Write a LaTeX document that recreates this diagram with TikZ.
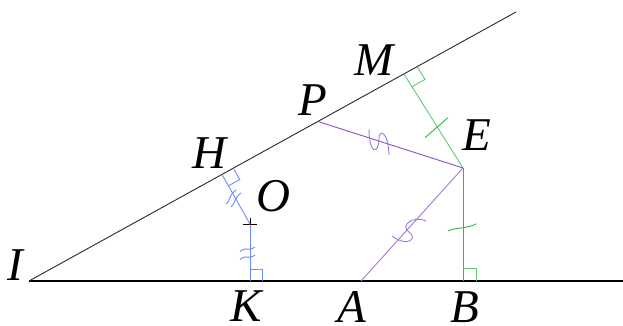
\documentclass[tikz,border=0pt]{standalone}
\usepackage{fontspec}
\setmainfont{Liberation Serif}
\usetikzlibrary{calc}
\definecolor{gline}{RGB}{40,40,40}
\definecolor{glight}{RGB}{100,200,120}
\definecolor{gdark}{RGB}{50,180,70}
\definecolor{pdark}{RGB}{135,80,195}
\definecolor{plight}{RGB}{165,120,215}
\definecolor{bl}{RGB}{105,140,255}
\begin{document}
\begin{tikzpicture}[x=1pt,y=-1pt,
  lbl/.style={inner sep=0pt,font=\fontsize{47}{50}\selectfont\itshape},
  thinline/.style={line width=0.9pt},
  markline/.style={line width=0.9pt}]
\useasboundingbox (0,0) rectangle (623,326);
% points
\coordinate (I) at (29,281);
\coordinate (T) at (516,12);
\coordinate (R) at (623,281);
\coordinate (M) at (404,74);
\coordinate (P) at (318,121.5);
\coordinate (H) at (222,174.5);
\coordinate (O) at (250,224);
\coordinate (K) at (250,281);
\coordinate (A) at (361,281);
\coordinate (B) at (463,281);
\coordinate (E) at (463,168);
% main lines
\draw[line width=1.3pt,black] (I) -- (R);
\draw[thinline,gline] (I) -- (T);
% coloured segments
\draw[thinline,bl] (H) -- (O);
\draw[thinline,bl] (O) -- (K);
\draw[thinline,glight] (M) -- (E);
\draw[thinline,gdark] (E) -- (B);
\draw[thinline,pdark] (P) -- (E);
\draw[thinline,plight] (E) -- (A);
% right angles
\coordinate (m1) at ($(M)!15pt!(T)$);
\coordinate (m2) at ($(M)!15pt!(E)$);
\draw[markline,glight] (m1) -- ($(m1)+(m2)-(M)$) -- (m2);
\coordinate (h1) at ($(H)!13pt!(T)$);
\coordinate (h2) at ($(H)!13pt!(O)$);
\draw[markline,bl] (h1) -- ($(h1)+(h2)-(H)$) -- (h2);
\coordinate (k1) at ($(K)!12pt!(B)$);
\coordinate (k2) at ($(K)!12pt!(O)$);
\draw[markline,bl] (k1) -- ($(k1)+(k2)-(K)$) -- (k2);
\coordinate (b1) at ($(B)!13pt!(R)$);
\coordinate (b2) at ($(B)!13pt!(E)$);
\draw[markline,glight] (b1) -- ($(b1)+(b2)-(B)$) -- (b2);
% ticks
\coordinate (t1) at ($(M)!0.56!(E)$);
\draw[markline,gdark] ($(t1)+(-12,11)$) -- ($(t1)+(11,-9)$);
\coordinate (t2) at ($(E)!0.53!(B)$);
\draw[markline,gdark] ($(t2)+(-15,3)$) .. controls ($(t2)+(-5,-1)$) and ($(t2)+(4,1)$) .. ($(t2)+(13,-4)$);
% blue double marks
\draw[markline,bl] (240,251.5) .. controls (247,246) and (248,252) .. (255,247);
\draw[markline,bl] (240,259.5) .. controls (247,254) and (248,260) .. (255,255);
\draw[markline,bl] (226,204) .. controls (231,200) and (228,196) .. (236,190);
\draw[markline,bl] (231,207) .. controls (236,203) and (233,199) .. (241,193);
% purple marks
\draw[markline,plight] (369,129) .. controls (369,155) and (379,155) .. (379,138)
  .. controls (379,130) and (388,130) .. (389,155);
\draw[markline,plight] (426,221) .. controls (412,215) and (400,226) .. (409,232)
  .. controls (418,238) and (408,248) .. (392,236);
% point O
\draw[line width=0.8pt,black] (243,224) -- (257,224) (250,218) -- (250,224);
\fill[red] (O) circle (1pt);
% labels
\node[lbl] (lI) at (15,265) {I};
\node[lbl] (lH) at (209,153) {H};
\node[lbl] (lO) at (273,196) {O};
\node[lbl] (lM) at (374,60) {M};
\node[lbl] (lP) at (313,100) {P};
\node[lbl] (lE) at (477,135) {E};
\node[lbl] (lK) at (246,306) {K};
\node[lbl] (lA) at (352,306.5) {A};
\node[lbl] (lB) at (465,307) {B};
\end{tikzpicture}
\end{document}
